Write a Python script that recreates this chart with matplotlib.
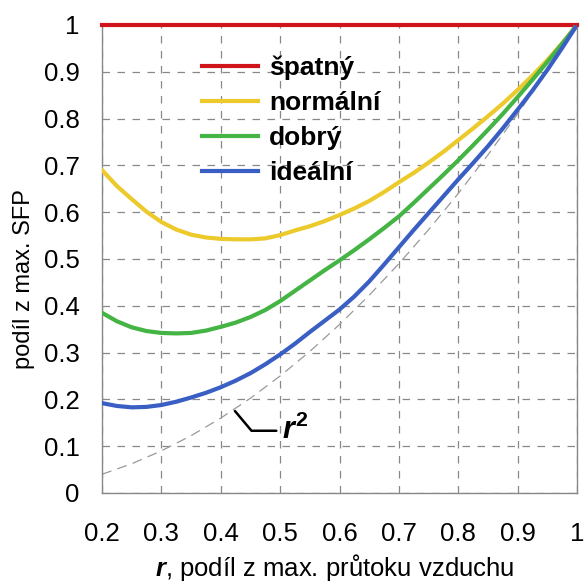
import matplotlib
matplotlib.use('Agg')
import matplotlib.pyplot as plt

plt.rcParams['font.family'] = ['Liberation Sans', 'DejaVu Sans']
plt.rcParams['mathtext.fontset'] = 'custom'
plt.rcParams['mathtext.it'] = 'Liberation Sans:italic:bold'
plt.rcParams['mathtext.rm'] = 'Liberation Sans:bold'

# r = podíl z max. průtoku vzduchu
r = [0.2, 0.225, 0.25, 0.275, 0.3, 0.325, 0.35, 0.375, 0.4, 0.425, 0.45,
     0.475, 0.5, 0.525, 0.55, 0.575, 0.6, 0.625, 0.65, 0.675, 0.7, 0.725,
     0.75, 0.775, 0.8, 0.825, 0.85, 0.875, 0.9, 0.925, 0.95, 0.975, 1.0]
spatny = [1.0] * len(r)
normalni = [0.690, 0.656, 0.628, 0.601, 0.579, 0.563, 0.552, 0.546, 0.543, 0.542, 0.542,
            0.544, 0.551, 0.561, 0.570, 0.581, 0.594, 0.608, 0.624, 0.643, 0.664, 0.684,
            0.706, 0.729, 0.754, 0.779, 0.805, 0.832, 0.861, 0.892, 0.925, 0.961, 1.0]
dobry = [0.385, 0.367, 0.354, 0.346, 0.342, 0.341, 0.342, 0.347, 0.355, 0.364, 0.376,
         0.391, 0.410, 0.432, 0.454, 0.476, 0.497, 0.519, 0.542, 0.566, 0.591, 0.620,
         0.650, 0.680, 0.711, 0.743, 0.776, 0.810, 0.846, 0.883, 0.921, 0.960, 1.0]
idealni = [0.192, 0.186, 0.183, 0.184, 0.188, 0.195, 0.204, 0.214, 0.226, 0.240, 0.256,
           0.275, 0.296, 0.319, 0.344, 0.368, 0.392, 0.420, 0.452, 0.488, 0.525, 0.562,
           0.598, 0.634, 0.670, 0.705, 0.741, 0.779, 0.819, 0.860, 0.904, 0.951, 1.0]

r2_x = [0.2, 0.25, 0.3, 0.35, 0.4, 0.45, 0.5, 0.55, 0.6, 0.65, 0.7, 0.75, 0.8, 0.85, 0.9, 0.95, 1.0]
r2_y = [0.04, 0.0625, 0.09, 0.1225, 0.16, 0.2025, 0.25, 0.3025, 0.36, 0.4225, 0.49, 0.5625, 0.64, 0.7225, 0.81, 0.9025, 1.0]

xticks = [0.2, 0.3, 0.4, 0.5, 0.6, 0.7, 0.8, 0.9, 1.0]
xlabels = ['0.2', '0.3', '0.4', '0.5', '0.6', '0.7', '0.8', '0.9', '1']
yticks = [0, 0.1, 0.2, 0.3, 0.4, 0.5, 0.6, 0.7, 0.8, 0.9, 1.0]
ylabels = ['0', '0.1', '0.2', '0.3', '0.4', '0.5', '0.6', '0.7', '0.8', '0.9', '1']

fig = plt.figure(figsize=(5.85, 5.86), dpi=100)
ax = fig.add_axes([102/585, 1 - 493/586, 475/585, 468/586])

ax.plot(r2_x, r2_y, color='#9a9a9a', lw=0.9, dashes=(8, 5), zorder=2)
ax.plot(r, spatny, color='#d0141c', lw=3, label='špatný', zorder=3, clip_on=False)
ax.plot(r, normalni, color='#ecca2c', lw=3, label='normální', zorder=3)
ax.plot(r, dobry, color='#44b444', lw=3, label='dobrý', zorder=3)
ax.plot(r, idealni, color='#3a5fc4', lw=3, label='ideální', zorder=3)

ax.set_xlim(0.2, 1.0)
ax.set_ylim(0, 1.0)
ax.set_xticks(xticks)
ax.set_xticklabels(xlabels)
ax.set_yticks(yticks)
ax.set_yticklabels(ylabels)
ax.tick_params(axis='x', length=0, pad=21, labelsize=18.5)
ax.tick_params(axis='y', length=0, pad=16, labelsize=18.5)
ax.grid(True, color='#888888', lw=0.9, dashes=(6, 6))
for s in ax.spines.values():
    s.set_color('#888888')
    s.set_linewidth(1)

ax.set_ylabel('podíl z max. SFP', fontsize=17)
ax.yaxis.set_label_coords(-0.141, 0.457)
ax.set_xlabel('$r$, podíl z max. průtoku vzduchu', fontsize=18.5)
ax.xaxis.set_label_coords(0.49, -0.127)

ax.annotate('$r^2$', xy=(0.424, 0.175), xytext=(0.503, 0.133),
            fontsize=22, va='center', ha='left',
            arrowprops=dict(arrowstyle='-', color='black', lw=1.8,
                            connectionstyle='angle,angleA=180,angleB=130',
                            shrinkA=2, shrinkB=0))

leg = ax.legend(loc='upper left', bbox_to_anchor=(0.21, 0.935), frameon=False,
                borderaxespad=0, borderpad=0, handlelength=2.15, handletextpad=0.4,
                labelspacing=0.42, prop={'weight': 'bold', 'size': 19})

fig.savefig('out.png', dpi=100)
